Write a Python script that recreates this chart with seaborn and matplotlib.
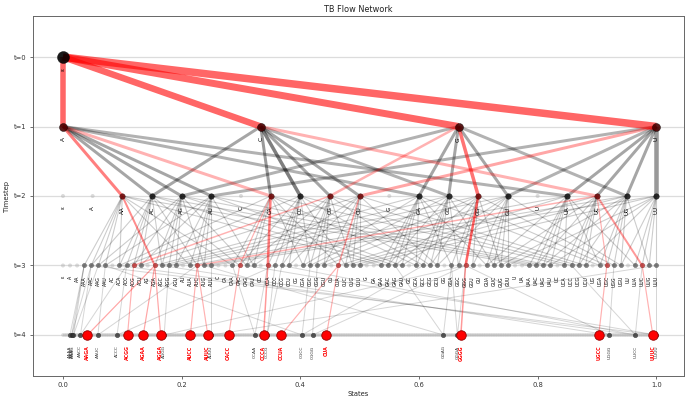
import itertools
import matplotlib
matplotlib.use("Agg")
import matplotlib.pyplot as plt
import seaborn as sns
import pandas as pd
from matplotlib.collections import LineCollection
from matplotlib.colors import to_rgba

# ---------------- data ----------------
ALPHABET = ["A", "C", "G", "U"]
EPS_LABEL = "ε"
TIMESTEPS = [0, 1, 2, 3, 4]
YTICK_LABELS = ["t=0", "t=1", "t=2", "t=3", "t=4"]
XTICKS = [0.0, 0.2, 0.4, 0.6, 0.8, 1.0]
TITLE = "TB Flow Network"

def all_strings(max_len):
    out = [""]
    for L in range(1, max_len + 1):
        out += ["".join(p) for p in itertools.product(ALPHABET, repeat=L)]
    return sorted(out)

# states present on each timestep row (sorted lexicographically)
STATES = {
    0: [""],
    1: ["A", "C", "G", "U"],
    2: all_strings(2),
    3: all_strings(3),
    4: all_strings(4),
}

def insert_children(s):
    # environment rule: insert one letter at any position
    ch = set()
    for i in range(len(s) + 1):
        for a in ALPHABET:
            ch.add(s[:i] + a + s[i:])
    return sorted(ch)

VISITED_T2 = ["AA", "AC", "AG", "AU", "CA", "CC", "CG", "CU",
              "GA", "GC", "GG", "GU", "UA", "UC", "UG", "UU"]
RED_T2 = ["AA", "CA", "CG", "CU", "GG", "UC"]
RED_T3 = ["AGA", "ACG", "AUC", "CAC", "CCA", "CUA", "GGG", "UGC", "UUC"]
RED_T4 = ["AAGA", "ACGG", "AGAA", "AGGA", "AUCC", "AUUC", "CACC", "CCCA",
          "CCUA", "CUA", "GGGG", "UGCC", "UUUC"]
GREY_T4 = ["AAAA", "AAAC", "AAAG", "AACC", "AAUC", "ACCC", "AGGG", "AUUU",
           "CCAA", "CCCG", "CGCC", "CGGG", "GGAG", "GGGA", "UGGG", "UUCC", "UUUU"]

# (source, target, width_px, alpha)
RED_T0_T1 = [("", "A", 5.5, 0.6), ("", "C", 6.5, 0.6),
             ("", "G", 7.0, 0.6), ("", "U", 7.5, 0.6)]
GREY_T1_T2 = [("A", "AC", 3, 0.35), ("A", "AG", 3, 0.35), ("A", "AU", 3, 0.35),
              ("A", "GA", 3, 0.3), ("A", "UA", 3, 0.3),
              ("C", "AC", 3, 0.35), ("C", "CA", 3, 0.4), ("C", "CC", 3.5, 0.5),
              ("C", "CG", 3, 0.35), ("C", "CU", 3, 0.35), ("C", "GC", 3, 0.3),
              ("G", "AG", 3, 0.3), ("G", "GA", 3, 0.35), ("G", "GC", 3, 0.35),
              ("G", "GU", 3, 0.35), ("G", "UG", 3, 0.3),
              ("U", "AU", 3, 0.3), ("U", "UA", 3, 0.35), ("U", "UC", 3, 0.35),
              ("U", "GU", 3, 0.3), ("U", "UG", 3, 0.35), ("U", "UU", 4.5, 0.4)]
RED_T1_T2 = [("A", "AA", 3, 0.5), ("A", "CA", 3, 0.3), ("C", "UC", 3, 0.3),
             ("G", "CG", 2.5, 0.3), ("G", "GG", 3.5, 0.55), ("U", "CU", 3, 0.35)]
RED_T2_T3 = [("AA", "AGA", 2, 0.45), ("CA", "CCA", 2.5, 0.5), ("CA", "CAC", 1.2, 0.3),
             ("CG", "ACG", 1.5, 0.3), ("CU", "CUA", 1.5, 0.35), ("GG", "GGG", 2.5, 0.6),
             ("UC", "AUC", 1.5, 0.3), ("UC", "UGC", 1.2, 0.3), ("UC", "UUC", 2, 0.4)]
RED_T3_T4 = [("AGA", "AAGA", 1.2, 0.35), ("AGA", "AGAA", 1.2, 0.35), ("AGA", "AGGA", 1.2, 0.35),
             ("ACG", "ACGG", 1.2, 0.3), ("AUC", "AUCC", 1.2, 0.3), ("AUC", "AUUC", 1.2, 0.3),
             ("CAC", "CACC", 1.2, 0.3), ("CCA", "CCCA", 1.5, 0.4), ("CUA", "CCUA", 1.2, 0.3),
             ("CUA", "CUA", 1.2, 0.3), ("GGG", "GGGG", 1.5, 0.4), ("UGC", "UGCC", 1.2, 0.3),
             ("UUC", "UUUC", 1.2, 0.3)]
GREY_T3_T4 = [("AAA", "AAAA"), ("AAA", "AAAC"), ("AAC", "AAAC"), ("AAG", "AAAG"),
              ("AAA", "AAAG"), ("AAC", "AACC"), ("ACC", "AACC"), ("AUC", "AAUC"),
              ("AAU", "AAUC"), ("ACC", "ACCC"), ("CCC", "ACCC"), ("AGG", "AGGG"),
              ("GGG", "AGGG"), ("AUU", "AUUU"), ("UUU", "AUUU"), ("CAA", "CCAA"),
              ("CCA", "CCAA"), ("CCC", "CCCG"), ("CCG", "CCCG"), ("CGC", "CGCC"),
              ("GCC", "CGCC"), ("CGG", "CGGG"), ("GGG", "CGGG"), ("GGA", "GGAG"),
              ("GAG", "GGAG"), ("GGG", "GGGA"), ("GGA", "GGGA"), ("UGG", "UGGG"),
              ("GGG", "UGGG"), ("UCC", "UUCC"), ("UUC", "UUCC"), ("UUU", "UUUU"),
              ("AAC", "UUUU"), ("AGC", "UGGG"), ("AUG", "GGAG"), ("CCG", "UUCC"),
              ("ACA", "UUCC"), ("AAU", "CGCC"), ("CAG", "UUUU")]

# ---------------- helpers ----------------
PX = 0.72  # points per pixel at dpi 100

def xpos(t, s):
    lst = STATES[t]
    n = len(lst)
    return 0.0 if n == 1 else lst.index(s) / (n - 1)

def seg(t, a, b):
    return [(xpos(t, a), t), (xpos(t + 1, b), t + 1)]

sns.set_theme(style="white")
plt.rcParams["font.family"] = ["DejaVu Sans"]

fig = plt.figure(figsize=(6.86, 3.96), dpi=100)
ax = fig.add_axes([33 / 686, 20 / 396, 651 / 686, 360 / 396])

for t in TIMESTEPS:
    ax.axhline(t, color="#dcdcdc", lw=0.9, zorder=0)

def add_edges(edges, color, zorder):
    segs, cols, lws = [], [], []
    for (t, a, b, w, al) in edges:
        segs.append(seg(t, a, b))
        cols.append(to_rgba(color, al))
        lws.append(w * PX)
    ax.add_collection(LineCollection(segs, colors=cols, linewidths=lws,
                                     zorder=zorder, capstyle="butt"))

# grey mesh t2 -> t3 (children of every visited length-2 state)
red23 = [(a, b) for a, b, _, _ in RED_T2_T3]
mesh = []
for s in VISITED_T2:
    for c in insert_children(s):
        if (s, c) in red23:
            continue
        mesh.append((2, s, c, 1.1, 0.2))
add_edges(mesh, "black", 1)
add_edges([(3, a, b, 1.0, 0.16) for a, b in GREY_T3_T4], "black", 1)
add_edges([(1, a, b, w, al) for a, b, w, al in GREY_T1_T2], "black", 2)
add_edges([(2, a, b, w, al) for a, b, w, al in RED_T2_T3], "red", 3)
add_edges([(3, a, b, w, al) for a, b, w, al in RED_T3_T4], "red", 3)
add_edges([(1, a, b, w, al) for a, b, w, al in RED_T1_T2], "red", 3)
add_edges([(0, a, b, w, al) for a, b, w, al in RED_T0_T1], "red", 3)

# ---------------- nodes ----------------
def nodes_df(t, names):
    return pd.DataFrame({"x": [xpos(t, s) for s in names], "y": [t] * len(names)})

def scat(df, size_px, face, edge, alpha, z, lw=0.3):
    sns.scatterplot(data=df, x="x", y="y", s=(size_px * PX) ** 2, color=face,
                    edgecolor=edge, alpha=alpha, linewidth=lw, ax=ax,
                    zorder=z, legend=False)

# light (all states) rows
for t in [2, 3, 4]:
    scat(nodes_df(t, STATES[t]), 4.0 if t < 4 else 3.6, "#b0b0b0", "none", 0.45, 4, 0)
# visited
scat(nodes_df(0, [""]), 12, "black", "black", 0.9, 6)
scat(nodes_df(1, STATES[1]), 8, "#4a0000", "black", 0.9, 6)
scat(nodes_df(2, [s for s in VISITED_T2 if s not in RED_T2]), 5.5, "#111111", "black", 0.85, 6)
scat(nodes_df(2, RED_T2), 5.5, "#6a0000", "#300000", 0.85, 6)
scat(nodes_df(3, [s for s in STATES[3] if len(s) == 3 and s not in RED_T3]), 4.3, "#555555", "#444444", 0.7, 5)
scat(nodes_df(3, RED_T3), 4.5, "#c03030", "#802020", 0.8, 5)
scat(nodes_df(4, GREY_T4), 4.5, "#333333", "#222222", 0.8, 6)
scat(nodes_df(4, RED_T4), 9.5, "red", "#900000", 1.0, 7, lw=0.6)

# ---------------- labels ----------------
OFF = 0.15
def lab(t, s, size, color="black", weight="normal"):
    ax.text(xpos(t, s), t + OFF, s if s else EPS_LABEL, rotation=90, ha="center",
            va="top", fontsize=size, color=color, fontweight=weight, zorder=8)

lab(0, "", 4.2)
for s in STATES[1]:
    lab(1, s, 4.2)
for s in STATES[2]:
    lab(2, s, 4.0)
for s in STATES[3]:
    lab(3, s, 3.3)
for s in GREY_T4:
    lab(4, s, 3.2, "#333333")
for s in RED_T4:
    lab(4, s, 3.4, "red", "bold")

# ---------------- axes ----------------
ax.set_xlim(-0.0505, 1.0467)
ax.set_ylim(4.59, -0.59)
ax.set_yticks(TIMESTEPS)
ax.set_yticklabels(YTICK_LABELS)
ax.set_xticks(XTICKS)
ax.set_xticklabels([f"{v:.1f}" for v in XTICKS])
ax.tick_params(axis="both", labelsize=4.9, length=2.5, width=0.5, colors="#333333",
               pad=2, left=True, bottom=True)
ax.set_xlabel("States", fontsize=4.9, labelpad=2, color="#222222")
ax.set_ylabel("Timestep", fontsize=4.9, labelpad=3, color="#222222")
ax.set_title(TITLE, fontsize=5.9, pad=3, color="#222222")
for sp in ax.spines.values():
    sp.set_color("#666666")
    sp.set_linewidth(0.7)

fig.savefig("out.png", dpi=100)
